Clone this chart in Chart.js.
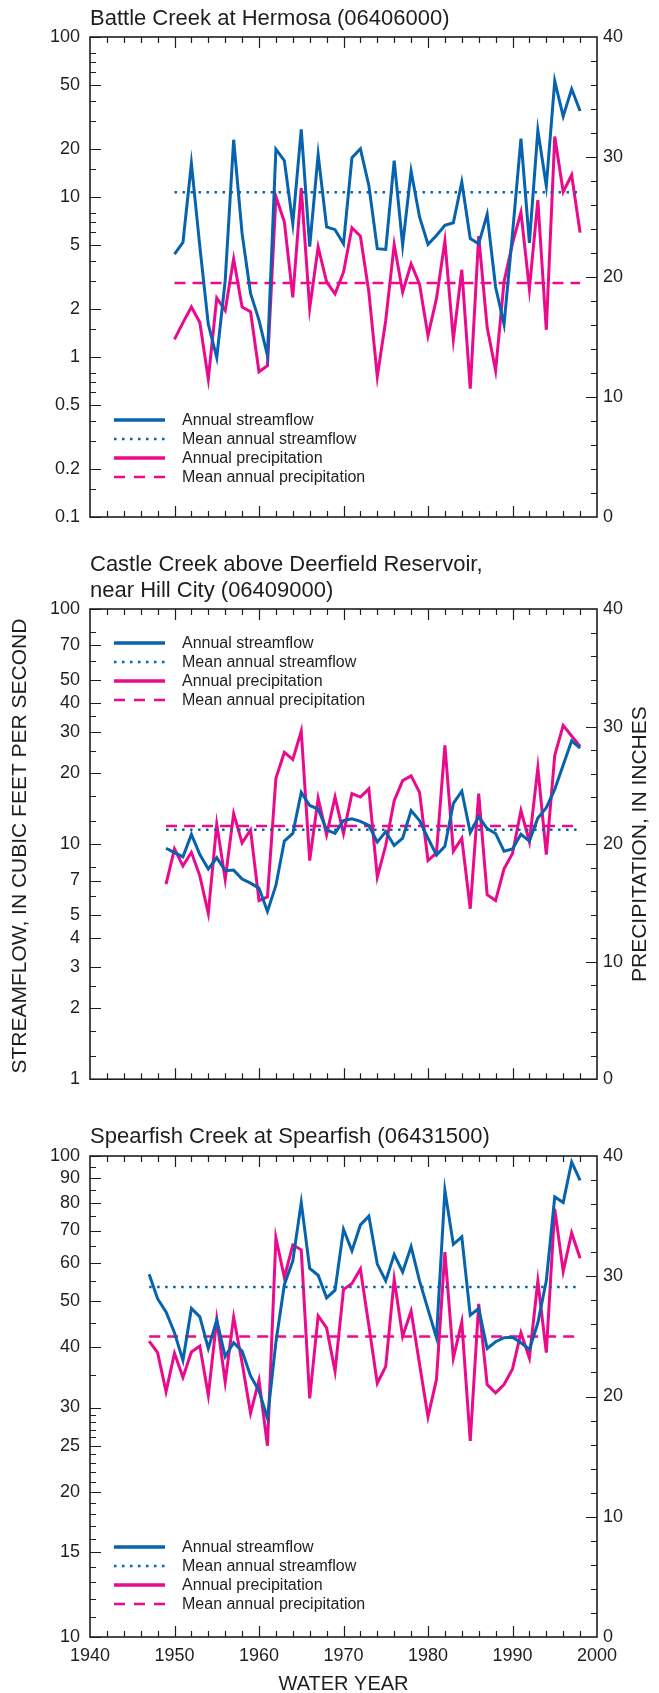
<!DOCTYPE html>
<html>
<head>
<meta charset="utf-8">
<script src="https://cdn.jsdelivr.net/npm/chart.js@4.4.1/dist/chart.umd.min.js"></script>
<style>
  html, body { margin: 0; padding: 0; background: #fff; }
  #page { position: relative; width: 659px; height: 1693px; overflow: hidden; }
  canvas { position: absolute; left: 0; }
</style>
</head>
<body>
<div id="page">
  <canvas id="battle" width="659" height="540" style="top:0px"></canvas>
  <canvas id="castle" width="659" height="560" style="top:540px"></canvas>
  <canvas id="spearfish" width="659" height="593" style="top:1100px"></canvas>
</div>
<script>
// Battle Creek at Hermosa, water years 1950-1998
var battleFirstYear = 1950;
var battleFlow = [4.4, 5.2, 16.2, 4.9, 1.6, 0.99, 3.0, 22.8, 5.9, 2.5, 1.7, 1.02, 19.9, 16.9, 6.8, 26.5,
  4.9, 18.4, 6.5, 6.25, 5.1, 17.6, 20.0, 11.8, 4.75, 4.7, 16.9, 5.0, 14.5, 7.5, 5.06, 5.75, 6.65, 6.9,
  12.4, 5.5, 5.1, 7.8, 2.74, 1.6, 5.9, 23.2, 5.16, 26.1, 11.7, 53, 31.9, 47.3, 34.5];
var battlePrecip = [14.8, 16.2, 17.5, 16.2, 11.5, 18.25, 17.2, 21.5, 17.5, 17.1, 12.1, 12.6, 26.7, 24.6,
  18.3, 27.4, 17.4, 22.5, 19.6, 18.6, 20.4, 24.1, 23.4, 18.75, 11.7, 16.4, 22.7, 18.75, 21.1, 19.4, 15.1,
  18.2, 23.0, 14.8, 20.6, 10.7, 23.4, 15.8, 12.2, 19.6, 22.8, 25.4, 19.0, 26.4, 15.6, 31.7, 27.1, 28.5, 23.7];
var battleFlowMean = 10.7;
var battlePrecipMean = 19.5;

// Castle Creek above Deerfield Reservoir, water years 1949-1998
var castleFirstYear = 1949;
var castleFlow = [9.6, 9.2, 8.83, 11.0, 9.03, 7.83, 8.75, 7.7, 7.75, 7.1, 6.82, 6.5, 5.17, 6.67, 10.3, 11.1,
  16.6, 14.6, 14.1, 11.5, 11.1, 12.6, 12.8, 12.5, 12.0, 10.2, 11.3, 9.87, 10.6, 13.9, 12.6, 10.6, 8.98,
  9.78, 14.9, 16.8, 11.2, 13.1, 11.65, 11.1, 9.33, 9.54, 11.0, 10.3, 12.9, 14.3, 17.1, 21.7, 27.5, 25.6];
var castlePrecip = [16.6, 19.6, 18.15, 19.3, 17.3, 14.1, 21.7, 17.0, 22.6, 20.1, 21.2, 15.2, 15.5, 25.6,
  27.8, 27.2, 29.6, 18.6, 23.9, 20.8, 24.0, 20.9, 24.3, 24.0, 24.7, 17.2, 19.9, 23.7, 25.4, 25.8, 24.4,
  18.6, 19.25, 28.4, 19.4, 20.5, 14.5, 24.3, 15.7, 15.2, 17.9, 19.2, 22.85, 20.2, 26.5, 19.1, 27.55, 30.1,
  29.2, 28.3];
var castleFlowMean = 11.5;
var castlePrecipMean = 21.55;

// Spearfish Creek at Spearfish, water years 1947-1998
var spearFirstYear = 1947;
var spearFlow = [56.8, 50.5, 47.4, 42.9, 37.6, 48.2, 46.3, 39.8, 45.6, 38.3, 40.9, 39.3, 34.9, 32.5, 28.5,
  41, 54, 60.5, 80, 58.4, 56.5, 50.7, 52.6, 70.4, 63.5, 71.9, 75.0, 59.6, 55.0, 62.4, 57.4, 64.8, 55.0,
  48.0, 41.9, 84.8, 65.5, 67.9, 46.7, 48.2, 39.8, 41.1, 41.9, 42.0, 40.9, 39.6, 45.0, 55.0, 82.2, 80.0,
  97.2, 89.0];
var spearPrecip = [24.6, 23.65, 20.4, 23.6, 21.6, 23.7, 24.2, 20.1, 26.4, 21.2, 26.6, 22.8, 18.6, 21.35,
  15.9, 33.2, 29.9, 32.6, 32.2, 19.85, 26.7, 25.7, 22.1, 28.9, 29.4, 30.6, 25.9, 21.1, 22.5, 29.75, 25.0,
  27.1, 22.7, 18.3, 21.4, 32.0, 23.2, 26.2, 16.3, 27.7, 21.0, 20.3, 21.0, 22.3, 25.3, 23.2, 29.6, 23.65,
  35.6, 30.4, 33.6, 31.5];
var spearFlowMean = 53.4;
var spearPrecipMean = 25.0;

// axis tick labels
var yearLabels = [1940, 1950, 1960, 1970, 1980, 1990, 2000];
var battleFlowLabels = [0.1, 0.2, 0.5, 1, 2, 5, 10, 20, 50, 100];
var battleFlowMinor = [0.15, 0.3, 0.4, 0.6, 0.7, 0.8, 1.5, 3, 4, 6, 7, 8, 15, 30, 40, 60, 70, 80];
var castleFlowLabels = [1, 2, 3, 4, 5, 7, 10, 20, 30, 40, 50, 70, 100];
var castleFlowMinor = [1.25, 1.6, 2.5, 6, 8, 12.5, 16, 25, 35, 60, 80];
var spearFlowLabels = [10, 15, 20, 25, 30, 40, 50, 60, 70, 80, 90, 100];
var spearFlowMinor = [11, 12, 13, 14, 16, 17, 18, 19, 21, 22, 23, 24, 26, 27, 28, 29, 35, 45, 55, 65, 75, 85, 95];
var precipLabels = [0, 10, 20, 30, 40];

var legendLabels = ['Annual streamflow', 'Mean annual streamflow', 'Annual precipitation', 'Mean annual precipitation'];

var BLUE = '#0763ad';
var PINK = '#ea0a8c';
var INK = '#1e1e1e';
var FONT = "'Liberation Sans', Arial, Helvetica, sans-serif";

function yearsFrom(first, n) {
    var out = [];
    for (var i = 0; i < n; i++) out.push(first + i);
    return out;
}

function toPoints(years, values) {
    return values.map(function(v, i) { return { x: years[i], y: v }; });
}

// draws the box, inward ticks, titles and legend
var framePlugin = {
    id: 'frame',
    afterDraw: function(chart, args, o) {
        var ctx = chart.ctx;
        var a = chart.chartArea;
        var xs = chart.scales.x, yl = chart.scales.y, yr = chart.scales.y2;
        var MAJ = 11, MIN = 6;
        ctx.save();
        ctx.strokeStyle = INK;
        ctx.lineWidth = 1.2;
        ctx.beginPath();
        for (var year = 1942; year < 2000; year += 2) {
            var px = Math.round(xs.getPixelForValue(year)) + 0.5;
            var len = year % 10 === 0 ? MAJ : MIN;
            ctx.moveTo(px, a.top); ctx.lineTo(px, a.top + len);
            ctx.moveTo(px, a.bottom); ctx.lineTo(px, a.bottom - len);
        }
        o.flowLabels.forEach(function(v) {
            var py = Math.round(yl.getPixelForValue(v)) + 0.5;
            ctx.moveTo(a.left, py); ctx.lineTo(a.left + MAJ, py);
        });
        o.flowMinor.forEach(function(v) {
            var py = Math.round(yl.getPixelForValue(v)) + 0.5;
            ctx.moveTo(a.left, py); ctx.lineTo(a.left + MIN, py);
        });
        for (var p = 2; p < 40; p += 2) {
            var py2 = Math.round(yr.getPixelForValue(p)) + 0.5;
            var l2 = p % 10 === 0 ? MAJ : MIN;
            ctx.moveTo(a.right, py2); ctx.lineTo(a.right - l2, py2);
        }
        ctx.stroke();
        ctx.lineWidth = 1.6;
        ctx.strokeRect(a.left, a.top, a.right - a.left, a.bottom - a.top);

        ctx.fillStyle = INK;
        ctx.textAlign = 'left';
        ctx.textBaseline = 'alphabetic';
        ctx.font = '22px ' + FONT;
        o.title.forEach(function(line, i) {
            ctx.fillText(line, a.left, o.titleY + i * 26);
        });

        if (o.axisTitles) {
            ctx.font = '21px ' + FONT;
            ctx.textAlign = 'center';
            ctx.textBaseline = 'middle';
            var cy = (a.top + a.bottom) / 2;
            ctx.save();
            ctx.translate(20, cy + 2);
            ctx.rotate(-Math.PI / 2);
            ctx.fillText('STREAMFLOW, IN CUBIC FEET PER SECOND', 0, 0);
            ctx.restore();
            ctx.save();
            ctx.translate(640, cy);
            ctx.rotate(-Math.PI / 2);
            ctx.fillText('PRECIPITATION, IN INCHES', 0, 0);
            ctx.restore();
        }
        if (o.xTitle) {
            ctx.font = '20px ' + FONT;
            ctx.textAlign = 'center';
            ctx.textBaseline = 'alphabetic';
            ctx.fillText('WATER YEAR', (a.left + a.right) / 2, chart.height - 3);
        }

        // legend
        var styles = [
            { color: BLUE, width: 3.5, dash: [] },
            { color: BLUE, width: 2.5, dash: [2.5, 5.5] },
            { color: PINK, width: 3.5, dash: [] },
            { color: PINK, width: 2.5, dash: [11, 9] }
        ];
        ctx.font = '16px ' + FONT;
        ctx.textAlign = 'left';
        ctx.textBaseline = 'middle';
        legendLabels.forEach(function(label, i) {
            var y = o.legendY + i * 19;
            ctx.save();
            ctx.strokeStyle = styles[i].color;
            ctx.lineWidth = styles[i].width;
            ctx.setLineDash(styles[i].dash);
            ctx.beginPath();
            ctx.moveTo(a.left + 24, y);
            ctx.lineTo(a.left + 75, y);
            ctx.stroke();
            ctx.restore();
            ctx.fillStyle = INK;
            ctx.fillText(label, a.left + 92, y + 1);
        });
        ctx.restore();
    }
};

function makePanel(id, cfg) {
    var years = yearsFrom(cfg.firstYear, cfg.flow.length);
    var lastYear = years[years.length - 1];
    var tickFont = { family: FONT, size: 18 };
    new Chart(document.getElementById(id), {
        type: 'line',
        data: {
            datasets: [
                {
                    label: 'Annual streamflow',
                    data: toPoints(years, cfg.flow),
                    yAxisID: 'y',
                    borderColor: BLUE,
                    borderWidth: 3
                },
                {
                    label: 'Mean annual streamflow',
                    data: [{ x: cfg.firstYear, y: cfg.flowMean }, { x: lastYear, y: cfg.flowMean }],
                    yAxisID: 'y',
                    borderColor: BLUE,
                    borderWidth: 2.5,
                    borderDash: [2.5, 5.5]
                },
                {
                    label: 'Annual precipitation',
                    data: toPoints(years, cfg.precip),
                    yAxisID: 'y2',
                    borderColor: PINK,
                    borderWidth: 3
                },
                {
                    label: 'Mean annual precipitation',
                    data: [{ x: cfg.firstYear, y: cfg.precipMean }, { x: lastYear, y: cfg.precipMean }],
                    yAxisID: 'y2',
                    borderColor: PINK,
                    borderWidth: 2.5,
                    borderDash: [11, 7]
                }
            ]
        },
        options: {
            responsive: false,
            animation: false,
            devicePixelRatio: 1,
            layout: { padding: { top: cfg.padTop, bottom: cfg.padBottom, left: 0, right: 0 } },
            elements: {
                point: { radius: 0 },
                line: { tension: 0, fill: false, borderJoinStyle: 'miter' }
            },
            plugins: {
                legend: { display: false },
                tooltip: { enabled: false },
                frame: {
                    title: cfg.title,
                    titleY: cfg.titleY,
                    legendY: cfg.legendY,
                    flowLabels: cfg.flowLabels,
                    flowMinor: cfg.flowMinor,
                    axisTitles: cfg.axisTitles,
                    xTitle: cfg.xTitle
                }
            },
            scales: {
                x: {
                    type: 'linear',
                    min: 1940,
                    max: 2000,
                    afterBuildTicks: function(s) { s.ticks = yearLabels.map(function(v) { return { value: v }; }); },
                    ticks: { display: cfg.xTitle, font: tickFont, color: INK, padding: 8, maxRotation: 0, autoSkip: false,
                        callback: function(v) { return String(v); } },
                    grid: { display: false, drawTicks: false },
                    border: { display: false },
                    afterFit: function(s) { s.height = cfg.xHeight; }
                },
                y: {
                    type: 'logarithmic',
                    position: 'left',
                    min: cfg.flowLabels[0],
                    max: cfg.flowLabels[cfg.flowLabels.length - 1],
                    afterBuildTicks: function(s) { s.ticks = cfg.flowLabels.map(function(v) { return { value: v }; }); },
                    ticks: { font: tickFont, color: INK, padding: 10, autoSkip: false,
                        callback: function(v) { return String(v); } },
                    grid: { display: false, drawTicks: false },
                    border: { display: false },
                    afterFit: function(s) { s.width = 90; }
                },
                y2: {
                    type: 'linear',
                    position: 'right',
                    min: 0,
                    max: 40,
                    afterBuildTicks: function(s) { s.ticks = precipLabels.map(function(v) { return { value: v }; }); },
                    ticks: { font: tickFont, color: INK, padding: 6, autoSkip: false },
                    grid: { display: false, drawTicks: false },
                    border: { display: false },
                    afterFit: function(s) { s.width = 62; }
                }
            }
        },
        plugins: [framePlugin]
    });
}

makePanel('battle', {
    firstYear: battleFirstYear, flow: battleFlow, precip: battlePrecip,
    flowMean: battleFlowMean, precipMean: battlePrecipMean,
    flowLabels: battleFlowLabels, flowMinor: battleFlowMinor,
    title: ['Battle Creek at Hermosa (06406000)'], titleY: 25,
    padTop: 37, padBottom: 23, xHeight: 0, legendY: 420,
    axisTitles: false, xTitle: false
});

makePanel('castle', {
    firstYear: castleFirstYear, flow: castleFlow, precip: castlePrecip,
    flowMean: castleFlowMean, precipMean: castlePrecipMean,
    flowLabels: castleFlowLabels, flowMinor: castleFlowMinor,
    title: ['Castle Creek above Deerfield Reservoir,', 'near Hill City (06409000)'], titleY: 31,
    padTop: 69, padBottom: 9, xHeight: 0, legendY: 103,
    axisTitles: true, xTitle: false
});

makePanel('spearfish', {
    firstYear: spearFirstYear, flow: spearFlow, precip: spearPrecip,
    flowMean: spearFlowMean, precipMean: spearPrecipMean,
    flowLabels: spearFlowLabels, flowMinor: spearFlowMinor,
    title: ['Spearfish Creek at Spearfish (06431500)'], titleY: 43,
    padTop: 56, padBottom: 0, xHeight: 56, legendY: 447,
    axisTitles: false, xTitle: true
});
</script>
</body>
</html>
